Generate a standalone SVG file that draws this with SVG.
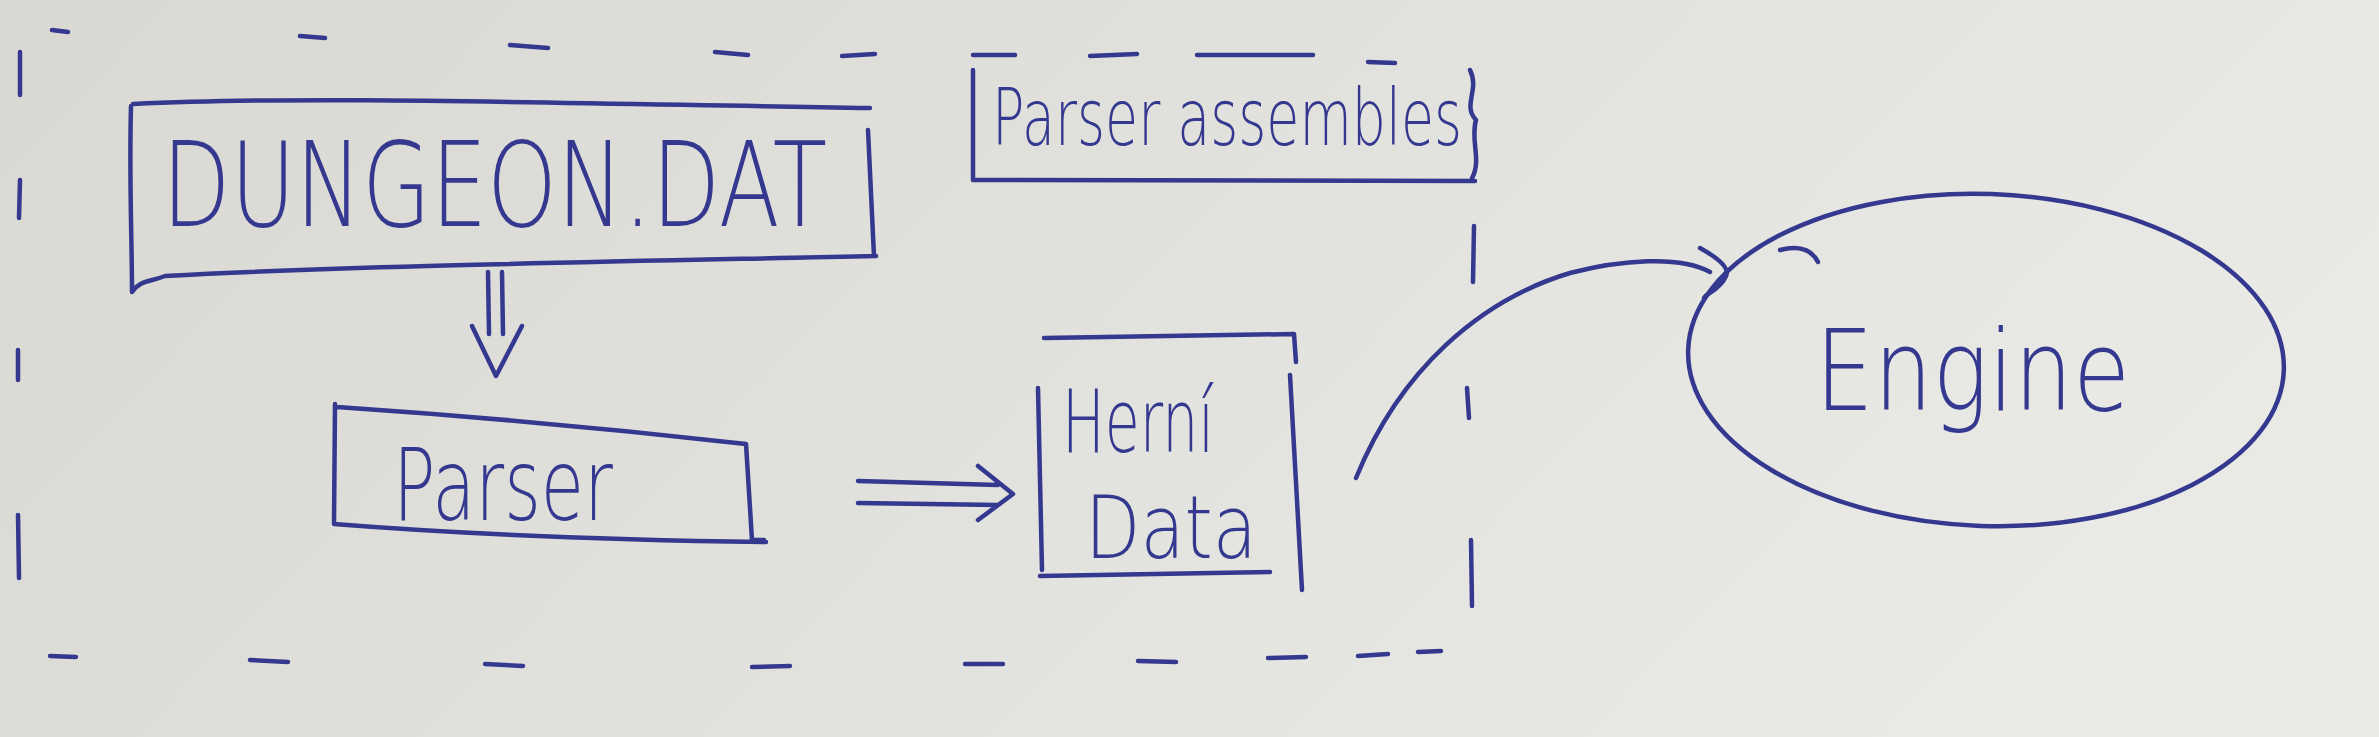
<svg xmlns="http://www.w3.org/2000/svg" width="2379" height="737" viewBox="0 0 2379 737">
<defs>
<linearGradient id="bg" x1="0" y1="0" x2="1" y2="0.3">
<stop offset="0" stop-color="#d9d8d3"/>
<stop offset="0.6" stop-color="#e2e2de"/>
<stop offset="1" stop-color="#e9e9e6"/>
</linearGradient>
<style>
.ink{fill:none;stroke:#34388f;stroke-width:4.5;stroke-linecap:round;stroke-linejoin:round}
.dash{fill:none;stroke:#34388f;stroke-width:4.5;stroke-linecap:round}
.lbl{font-family:"DejaVu Sans","Liberation Sans",sans-serif;font-weight:200;fill:#34388f}
</style>
</defs>
<rect width="2379" height="737" fill="url(#bg)"/>
<g id="boundary">
<path class="dash" d="M52,30 L68,32 M300,36 L325,38 M510,45 L548,48 M715,52 L748,55 M842,56 L875,54 M973,55 L1015,55 M1090,56 L1137,54 M1197,55 L1313,55 M1368,62 L1395,63"/>
<path class="dash" d="M20,52 L20,95 M20,180 L19,218 M18,350 L18,380 M18,515 L19,578"/>
<path class="dash" d="M50,656 L76,657 M250,660 L288,662 M485,664 L523,666 M752,667 L790,666 M965,664 L1003,664 M1138,661 L1176,662 M1268,658 L1306,657 M1358,656 L1388,654 M1418,652 L1441,651"/>
<path class="dash" d="M1474,226 L1473,282 M1467,388 L1469,418 M1471,540 L1472,606"/>
</g>
<g id="parser-assembles">
<path class="ink" d="M973,70 L973,180 L1475,181 M1470,70 C1480,90 1462,105 1476,120 C1470,140 1482,160 1472,178"/>
<text class="lbl" x="992" y="145" font-size="78" textLength="470" lengthAdjust="spacingAndGlyphs">Parser assembles</text>
</g>
<g id="dungeon">
<path class="ink" d="M133,104 C300,96 500,102 870,108 M131,106 C129,180 132,240 132,292 C140,280 150,282 165,276 C350,266 600,262 876,256 M868,130 L874,256"/>
<text class="lbl" x="162" y="226" font-size="118" textLength="665" lengthAdjust="spacingAndGlyphs">DUNGEON.DAT</text>
</g>
<g id="parser">
<path class="ink" d="M337,407 C500,418 640,432 746,444 M335,404 L334,524 C460,534 620,540 766,542 M746,444 L752,540 L764,540"/>
<text class="lbl" x="393" y="520" font-size="100" textLength="220" lengthAdjust="spacingAndGlyphs">Parser</text>
</g>
<g id="game-data">
<path class="ink" d="M1044,338 L1294,334 L1296,362 M1038,388 L1042,570 M1290,375 L1302,590 M1040,576 L1270,572"/>
<text class="lbl" x="1062" y="452" font-size="88" textLength="152" lengthAdjust="spacingAndGlyphs">Herní</text>
<text class="lbl" x="1085" y="558" font-size="88" textLength="172" lengthAdjust="spacingAndGlyphs">Data</text>
</g>
<g id="engine">
<ellipse class="ink" cx="1986" cy="360" rx="298" ry="166" transform="rotate(2 1986 360)"/>
<path class="ink" d="M1780,250 C1800,245 1812,250 1818,262"/>
<text class="lbl" x="1815" y="410" font-size="112" textLength="315" lengthAdjust="spacingAndGlyphs">Engine</text>
</g>
<g id="connectors">
<path class="ink" d="M488,272 L489,334 M502,272 L503,334 M472,326 L496,376 L522,326"/>
<path class="ink" d="M858,481 L998,485 M858,503 L998,505 M978,466 L1013,494 L978,520"/>
<path class="ink" d="M1356,478 C1400,370 1480,300 1570,273 C1620,260 1680,255 1710,272"/>
<path class="ink" d="M1700,248 C1718,258 1730,268 1726,276 C1720,290 1705,294 1704,298"/>
</g>
</svg>
